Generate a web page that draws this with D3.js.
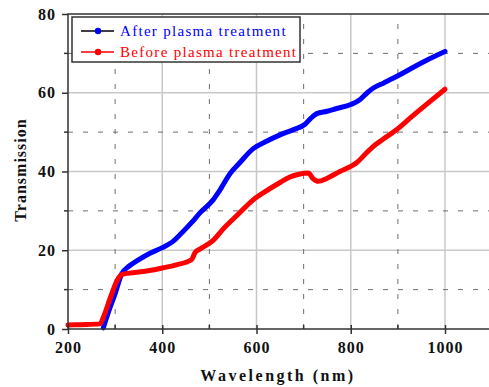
<!DOCTYPE html>
<html>
<head>
    <title>Transmission</title>
    <script src="https://d3js.org/d3.v7.min.js"></script>
    <style>
        body { margin: 0; background: #fff; }
        svg { font-family: "Liberation Serif", "DejaVu Serif", serif; }
        .tick-label { font-weight: bold; font-size: 16px; fill: #111; letter-spacing: 1px; }
        .axis-title { font-weight: bold; font-size: 16px; fill: #111; }
        .legend-text { font-size: 15px; letter-spacing: 1.3px; }
    </style>
</head>
<body>
    <svg id="chart" width="489" height="387"></svg>

    <script>
        // values
        var afterWl = [275, 285, 300, 314, 330, 346, 370, 399, 420, 438, 462, 480, 508, 522, 544, 565, 593, 620, 650, 680, 703, 715, 728, 750, 770, 800, 820, 835, 848, 870, 900, 930, 960, 1000];
        var afterT  = [0.3, 4, 9, 14, 16, 17.3, 19, 20.6, 22, 24, 27, 29.5, 32.8, 35.2, 39.5, 42.3, 45.8, 47.6, 49.3, 50.7, 52, 53.5, 54.7, 55.3, 56, 57, 58.3, 60, 61.2, 62.5, 64.3, 66.3, 68.2, 70.5];

        var beforeWl = [200, 220, 268, 275, 290, 305, 314, 330, 360, 400, 430, 462, 470, 480, 508, 530, 560, 593, 620, 650, 671, 690, 710, 720, 731, 750, 777, 800, 813, 830, 848, 870, 897, 930, 960, 1000];
        var beforeT  = [1, 1.1, 1.3, 3, 8, 12.5, 13.8, 14.2, 14.6, 15.5, 16.3, 17.6, 19.5, 20.3, 22.5, 25.5, 29, 32.8, 35, 37.2, 38.6, 39.3, 39.6, 38.2, 37.5, 38.3, 40, 41.3, 42.3, 44.3, 46.4, 48.3, 50.6, 54, 57, 60.9];

        var xMajor = [200, 400, 600, 800, 1000];
        var xMinor = [300, 500, 700, 900];
        var yMajor = [0, 20, 40, 60, 80];
        var yMinor = [10, 30, 50, 70];

        var seriesNames = ["After plasma treatment", "Before plasma treatment"];
        var seriesColors = ["#0000ff", "#ff0000"];
        var legendLineColors = ["#000000", "#ff0000"];

        var svg = d3.select("#chart");

        // plot box (the right edge runs off the picture)
        var pLeft = 68, pRight = 492, pTop = 14, pBottom = 329;

        var x = d3.scaleLinear().domain([200, 1000]).range([pLeft, 445]);
        var y = d3.scaleLinear().domain([0, 80]).range([pBottom, pTop]);

        // grid
        var grid = svg.append("g");
        grid.selectAll(".gx").data(xMajor.slice(1)).enter().append("line")
            .attr("x1", d => x(d)).attr("x2", d => x(d))
            .attr("y1", pTop).attr("y2", pBottom)
            .attr("stroke", "#c8c8c8").attr("stroke-width", 1.5);
        grid.selectAll(".gy").data(yMajor.slice(1, 4)).enter().append("line")
            .attr("x1", pLeft).attr("x2", pRight)
            .attr("y1", d => y(d)).attr("y2", d => y(d))
            .attr("stroke", "#c8c8c8").attr("stroke-width", 1.5);
        grid.selectAll(".mx").data(xMinor).enter().append("line")
            .attr("x1", d => x(d)).attr("x2", d => x(d))
            .attr("y1", pBottom).attr("y2", pTop)
            .attr("stroke", "#6e6e6e").attr("stroke-width", 1)
            .attr("stroke-dasharray", "5,10");
        grid.selectAll(".my").data(yMinor).enter().append("line")
            .attr("x1", pLeft).attr("x2", pRight)
            .attr("y1", d => y(d)).attr("y2", d => y(d))
            .attr("stroke", "#6e6e6e").attr("stroke-width", 1)
            .attr("stroke-dasharray", "5,10");

        // curves
        var line = d3.line().x(d => x(d[0])).y(d => y(d[1])).curve(d3.curveMonotoneX);
        var afterData = afterWl.map((w, i) => [w, afterT[i]]);
        var beforeData = beforeWl.map((w, i) => [w, beforeT[i]]);

        svg.append("path").datum(afterData)
            .attr("d", line).attr("fill", "none")
            .attr("stroke", seriesColors[0]).attr("stroke-width", 5)
            .attr("stroke-linejoin", "round").attr("stroke-linecap", "round");
        svg.append("path").datum(beforeData)
            .attr("d", line).attr("fill", "none")
            .attr("stroke", seriesColors[1]).attr("stroke-width", 5)
            .attr("stroke-linejoin", "round").attr("stroke-linecap", "round");

        // frame
        svg.append("rect")
            .attr("x", pLeft).attr("y", pTop)
            .attr("width", pRight - pLeft).attr("height", pBottom - pTop)
            .attr("fill", "none").attr("stroke", "#333").attr("stroke-width", 1.5);

        // axes
        var xAxis = d3.axisBottom(x).tickValues(xMajor).tickFormat(d3.format("d")).tickSize(5).tickPadding(8);
        var gx = svg.append("g").attr("transform", "translate(0," + pBottom + ")").call(xAxis)
            .attr("font-family", null).attr("font-size", null);
        gx.select(".domain").remove();
        gx.selectAll("line").attr("stroke", "#333").attr("stroke-width", 1.5).attr("y1", -4);
        gx.selectAll("text").attr("class", "tick-label");
        gx.selectAll(".minor").data(xMinor).enter().append("line")
            .attr("x1", d => x(d)).attr("x2", d => x(d))
            .attr("y1", -4).attr("y2", 0).attr("stroke", "#333").attr("stroke-width", 1.5);

        var yAxis = d3.axisLeft(y).tickValues(yMajor).tickSize(6).tickPadding(6);
        var gy = svg.append("g").attr("transform", "translate(" + pLeft + ",0)").call(yAxis)
            .attr("font-family", null).attr("font-size", null);
        gy.select(".domain").remove();
        gy.selectAll("line").attr("stroke", "#333").attr("stroke-width", 1.5);
        gy.selectAll("text").attr("class", "tick-label");
        gy.selectAll(".minor").data(yMinor).enter().append("line")
            .attr("x1", -4).attr("x2", 0)
            .attr("y1", d => y(d)).attr("y2", d => y(d))
            .attr("stroke", "#333").attr("stroke-width", 1.5);

        // axis titles
        svg.append("text").attr("class", "axis-title")
            .attr("x", 278).attr("y", 381).attr("text-anchor", "middle")
            .style("letter-spacing", "2.5px")
            .text("Wavelength (nm)");
        svg.append("text").attr("class", "axis-title")
            .attr("transform", "translate(26,170) rotate(-90)")
            .attr("text-anchor", "middle")
            .style("letter-spacing", "1px")
            .text("Transmission");

        // legend
        var legend = svg.append("g");
        legend.append("rect")
            .attr("x", 72).attr("y", 17).attr("width", 228).attr("height", 45)
            .attr("fill", "#fff").attr("stroke", "#333").attr("stroke-width", 1.5);
        seriesNames.forEach(function(name, i) {
            var ly = 31 + i * 21;
            legend.append("line")
                .attr("x1", 81).attr("x2", 114).attr("y1", ly).attr("y2", ly)
                .attr("stroke", legendLineColors[i]).attr("stroke-width", 1.5);
            legend.append("circle")
                .attr("cx", 98).attr("cy", ly).attr("r", 3.2)
                .attr("fill", seriesColors[i]);
            legend.append("text").attr("class", "legend-text")
                .attr("x", 120).attr("y", ly + 5)
                .attr("fill", seriesColors[i])
                .text(name);
        });
    </script>
</body>
</html>
